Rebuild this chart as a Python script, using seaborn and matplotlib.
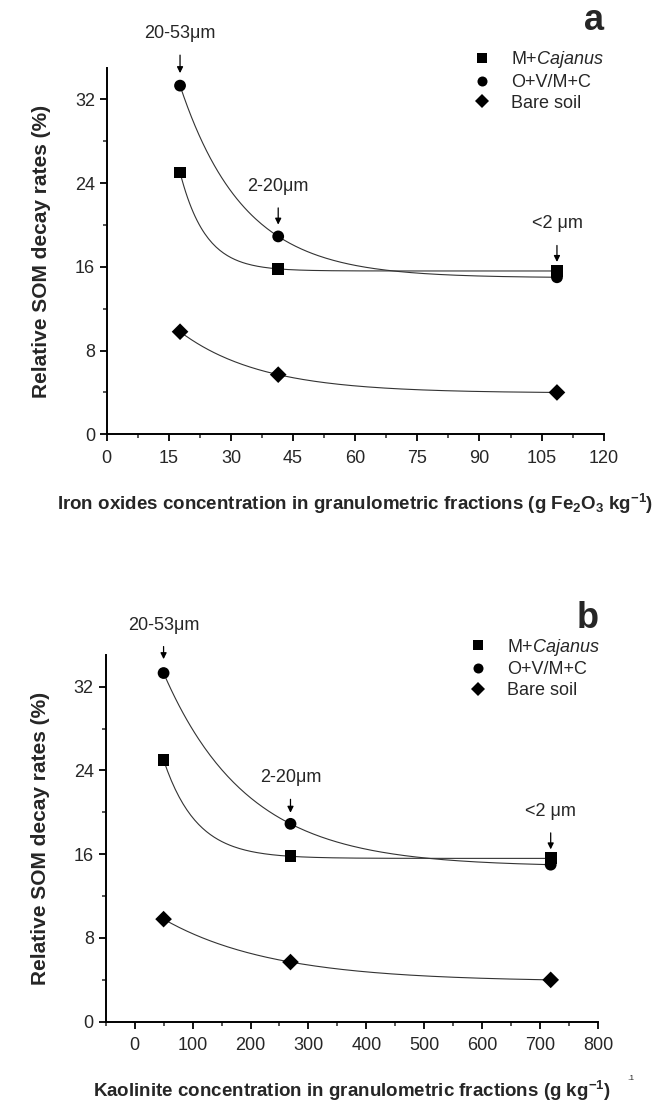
import numpy as np
import pandas as pd
import matplotlib
matplotlib.use("Agg")
import matplotlib.pyplot as plt
from matplotlib.ticker import MultipleLocator
import seaborn as sns

# data
series = ["M+Cajanus", "O+V/M+C", "Bare soil"]
iron_x = [17.7, 41.4, 108.7]          # g Fe2O3 kg-1, fractions 20-53, 2-20, <2 um
kaolinite_x = [50, 269, 718]          # g kg-1
cajanus_y = [25.0, 15.8, 15.6]
ovmc_y = [33.3, 18.9, 15.0]
bare_y = [9.8, 5.7, 4.0]
fraction_labels = ["20-53\u03bcm", "2-20\u03bcm", "<2 \u03bcm"]

sns.set_style("ticks")
plt.rcParams['font.family'] = ['Liberation Sans', 'DejaVu Sans']
plt.rcParams['mathtext.fontset'] = 'custom'
plt.rcParams['mathtext.rm'] = 'Liberation Sans'
plt.rcParams['mathtext.it'] = 'Liberation Sans:italic'
plt.rcParams['mathtext.bf'] = 'Liberation Sans:bold'


def exp_fit(x, y):
    """y = a + b*exp(-c*x) through three points (bisection on c)."""
    x = np.asarray(x, float)
    y = np.asarray(y, float)
    r = (y[0] - y[1]) / (y[1] - y[2])

    def f(c):
        e = np.exp(-c * x)
        return (e[0] - e[1]) / (e[1] - e[2]) - r

    lo, hi = 1e-6 / x.max(), 50.0 / x.max()
    for _ in range(200):
        mid = 0.5 * (lo + hi)
        if f(lo) * f(mid) <= 0:
            hi = mid
        else:
            lo = mid
    c = 0.5 * (lo + hi)
    e = np.exp(-c * x)
    b = (y[0] - y[1]) / (e[0] - e[1])
    a = y[0] - b * e[0]
    return lambda t: a + b * np.exp(-c * t)


def draw_panel(ax, xs, xlim, xmajor, xminor, xlabel, letter, letter_y,
               label_offsets):
    rows = []
    for name, ys in zip(series, [cajanus_y, ovmc_y, bare_y]):
        for xv, yv in zip(xs, ys):
            rows.append({'x': xv, 'y': yv, 'series': name})
        fit = exp_fit(xs, ys)
        grid = np.linspace(xs[0], xs[-1], 200)
        sns.lineplot(x=grid, y=fit(grid), ax=ax, color='#333333', lw=0.8,
                     legend=False)
    df = pd.DataFrame(rows)
    sns.scatterplot(data=df, x='x', y='y', style='series', ax=ax,
                    markers={'M+Cajanus': 's', 'O+V/M+C': 'o', 'Bare soil': 'D'},
                    color='black', s=72, edgecolor='black', linewidth=0,
                    zorder=3)

    ax.set_xlim(*xlim)
    ax.set_ylim(0, 35)
    ax.xaxis.set_major_locator(MultipleLocator(xmajor))
    ax.xaxis.set_minor_locator(MultipleLocator(xminor))
    ax.yaxis.set_major_locator(MultipleLocator(8))
    ax.yaxis.set_minor_locator(MultipleLocator(4))
    ax.tick_params(which='major', length=5, width=1.3, labelsize=13,
                   direction='out', color='black')
    ax.tick_params(which='minor', length=3, width=1.1, direction='out')
    ax.tick_params(axis='x', pad=6)
    for s in ['left', 'bottom']:
        ax.spines[s].set_linewidth(1.4)
        ax.spines[s].set_color('black')
    sns.despine(ax=ax)
    ax.set_xlabel(xlabel, fontsize=13.5, fontweight='bold', labelpad=18)
    ax.set_ylabel('Relative SOM decay rates (%)', fontsize=15,
                  fontweight='bold', labelpad=17)

    # legend
    handles, _ = ax.get_legend_handles_labels()
    ax.legend(handles, ['M+$\\it{Cajanus}$', 'O+V/M+C', 'Bare soil'],
              loc='upper left', bbox_to_anchor=(0.705, 1.07), frameon=False,
              fontsize=13, handletextpad=0.6, labelspacing=0.2,
              markerscale=0.85, borderaxespad=0)

    # fraction annotations
    tops = [ovmc_y[0], ovmc_y[1], cajanus_y[2]]
    for xv, yv, lab, (dy, shrink) in zip(xs, tops, fraction_labels,
                                         label_offsets):
        ax.annotate(lab, xy=(xv, yv), xytext=(0, dy),
                    textcoords='offset pixels', ha='center', va='center',
                    fontsize=13,
                    arrowprops=dict(arrowstyle='-|>', color='black', lw=0.9,
                                    mutation_scale=9, shrinkA=7,
                                    shrinkB=shrink))

    ax.text(1.0, letter_y, letter, transform=ax.transAxes, fontsize=26,
            fontweight='bold', ha='right', va='center')


fig = plt.figure(figsize=(6.52, 11.10), dpi=100)
ax_a = fig.add_axes([0.1637, 0.6087, 0.7623, 0.3302])
ax_b = fig.add_axes([0.1620, 0.0795, 0.7555, 0.3302])

draw_panel(ax_a, iron_x, (0, 120), 15, 7.5,
           'Iron oxides concentration in granulometric fractions '
           '(g Fe$_\\mathbf{2}$O$_\\mathbf{3}$ kg$^\\mathbf{-1}$)',
           'a', 1.13, [(52, 9), (50, 8.5), (47, 6.5)])
draw_panel(ax_b, kaolinite_x, (-50, 800), 100, 50,
           'Kaolinite concentration in granulometric fractions '
           '(g kg$^\\mathbf{-1}$)',
           'b', 1.10, [(48, 10), (46, 8), (47, 6.5)])

fig.text(0.962, 0.027, '.1', fontsize=6)

fig.savefig('out.png', dpi=100)
